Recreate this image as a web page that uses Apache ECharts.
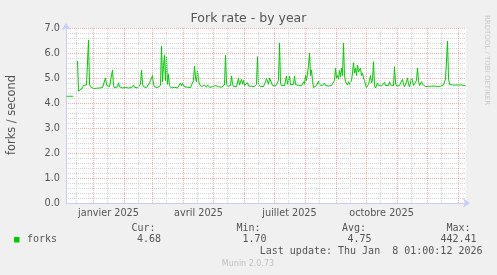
<!DOCTYPE html>
<html>
<head>
<meta charset="utf-8">
<script src="https://cdn.jsdelivr.net/npm/echarts@6/dist/echarts.min.js"></script>
<style>
html,body{margin:0;padding:0;background:#f0f0f0;}
#c{width:497px;height:275px;}
</style>
</head>
<body>
<div id="c"></div>
<script>
// ---- data (one value per day, oldest first) ----
const startDate = '2024-12-04T12:00:00Z';
const endDate = '2026-01-08T12:00:00Z';
const forks = [
4.27,4.27,4.27,4.27,4.27,4.27,4.27,4.27,null,null,
null,5.68,4.48,4.55,4.52,4.56,4.6,4.7,4.62,4.68,
4.72,4.8,6.52,4.75,4.65,4.62,4.6,4.58,4.6,4.57,
4.59,4.6,4.58,4.6,4.62,4.6,4.62,4.65,4.7,5.0,
4.72,4.65,4.8,4.65,4.6,4.7,5.32,4.7,4.6,4.58,
4.6,4.65,4.81,4.65,4.6,4.58,4.6,4.57,4.6,4.62,
4.6,4.58,4.6,4.59,4.6,4.62,4.65,4.72,4.63,4.6,
4.62,4.6,4.62,4.65,4.75,5.32,4.75,4.65,4.62,4.6,
4.62,4.65,4.7,4.8,4.9,4.95,5.1,4.75,4.65,4.62,
4.6,4.62,4.6,4.62,4.7,6.28,4.85,5.5,5.92,4.9,
5.85,4.75,5.15,4.7,4.62,4.6,4.62,4.6,4.63,4.6,
4.62,4.6,4.62,4.65,4.8,4.68,4.78,4.8,4.65,4.62,
4.6,4.63,4.62,4.6,4.62,4.65,4.63,4.9,5.48,5.0,
4.85,5.3,4.9,4.75,4.68,4.65,4.63,4.65,4.72,4.65,
4.63,4.72,4.65,4.63,4.65,4.63,4.65,4.64,4.65,4.7,
4.65,4.63,4.65,4.64,4.65,4.63,4.65,4.68,4.72,5.92,
4.8,4.66,4.65,4.64,4.7,5.08,4.75,4.66,4.65,4.64,
4.65,4.7,5.0,4.72,4.66,4.95,4.75,4.9,4.7,4.66,
4.68,4.81,4.68,4.66,4.65,4.67,4.66,4.65,4.66,4.68,
4.75,5.85,4.75,4.68,4.66,4.65,4.67,4.66,4.7,4.85,
4.98,4.9,4.75,5.0,4.95,4.8,4.7,4.68,4.67,4.68,
4.66,4.68,4.9,6.4,4.8,4.7,4.68,4.7,4.69,4.75,
5.08,4.75,4.72,5.08,4.72,4.7,4.69,4.75,5.08,4.74,
4.7,4.69,4.7,4.68,4.7,4.69,4.72,4.85,4.75,5.1,
4.9,5.2,5.5,5.99,5.1,5.32,4.9,4.62,4.58,4.62,
4.7,4.75,4.88,4.72,4.7,4.69,4.7,4.72,4.8,4.7,
4.69,4.7,4.68,4.7,4.69,4.7,4.72,4.75,4.9,5.39,
5.0,5.1,4.95,5.3,5.05,5.4,5.1,6.39,5.1,4.85,
4.8,4.72,4.85,4.75,4.7,4.9,5.2,5.61,5.2,5.39,
5.1,5.52,5.25,5.2,5.4,5.1,5.2,5.0,4.9,4.72,
4.62,4.6,4.75,4.9,5.1,4.8,4.9,5.65,4.7,4.6,
4.63,4.8,4.7,4.68,4.67,4.68,4.7,4.75,4.82,4.7,
4.68,4.67,4.7,4.85,4.72,4.68,4.67,4.7,5.45,4.8,
4.68,4.65,4.75,4.7,4.8,4.85,4.95,4.75,4.65,4.7,
4.85,5.0,4.75,4.65,4.8,5.0,4.9,4.7,4.62,4.65,
4.9,5.4,4.9,4.7,4.68,4.85,4.75,4.68,4.67,4.66,
4.67,4.66,4.67,4.68,4.72,4.67,4.66,4.67,4.68,4.7,
4.67,4.66,4.67,4.66,4.67,4.68,4.7,4.72,4.75,4.95,
4.9,6.48,5.0,4.74,4.72,4.71,4.72,4.72,4.73,4.72,
4.8,4.73,4.72,4.71,4.72,4.72,4.71,4.7,4.7,4.68
];
const monthStarts = ['2025-01-01','2025-02-01','2025-03-01','2025-04-01','2025-05-01','2025-06-01','2025-07-01','2025-08-01','2025-09-01','2025-10-01','2025-11-01','2025-12-01','2026-01-01'];
const midMonths = ['2024-12-15','2025-01-15','2025-02-15','2025-03-15','2025-04-15','2025-05-15','2025-06-15','2025-07-15','2025-08-15','2025-09-15','2025-10-15','2025-11-15','2025-12-15'];
const labelDates = ['2025-01-16','2025-04-16','2025-07-16','2025-10-16'];
const monthNamesFr = ['janvier','février','mars','avril','mai','juin','juillet','août','septembre','octobre','novembre','décembre'];
const yTicks = [0,1,2,3,4,5,6,7];
const legendStats = {cur:'4.68', min:'1.70', avg:'4.75', max:'442.41'};

// ---- build ----
const DAY = 86400000;
const t0 = Date.parse(startDate);
const t1 = Date.parse(endDate);
const seriesData = forks.map((v,i)=>[t0 + (i+0.5)*DAY, v]);
const ts = s => Date.parse(s + 'T00:00:00Z');

const chart = echarts.init(document.getElementById('c'), null, {renderer:'canvas'});
const axisCol = '#c8cef4';
const txt = '#555555';
const mono = '"DejaVu Sans Mono", monospace';
const sans = '"DejaVu Sans", sans-serif';
const redGrid = 'rgba(225,95,95,0.5)';
const grayGrid = '#d4d4d4';

chart.setOption({
  backgroundColor:'#f0f0f0',
  animation:false,
  grid:{left:66, top:28, width:400, height:175, show:true, backgroundColor:'#ffffff', borderWidth:0, containLabel:false},
  xAxis:{
    type:'value', min:t0, max:t1, scale:true,
    axisLine:{show:true, lineStyle:{color:axisCol, width:1}, symbol:['none','arrow'], symbolSize:[7,7], symbolOffset:[0,4]},
    axisTick:{show:false},
    splitLine:{show:false},
    axisLabel:{
      customValues: labelDates.map(ts),
      formatter: v => { const d = new Date(v); return monthNamesFr[d.getUTCMonth()] + ' ' + d.getUTCFullYear(); },
      color:txt, fontFamily:sans, fontSize:9.7, margin:5, hideOverlap:false
    }
  },
  yAxis:{
    type:'value', min:yTicks[0], max:yTicks[yTicks.length-1], interval:1,
    axisLine:{show:true, lineStyle:{color:axisCol, width:1}, symbol:['none','arrow'], symbolSize:[7,7], symbolOffset:[0,5]},
    axisTick:{show:false},
    axisLabel:{formatter:v=>v.toFixed(1), color:txt, fontFamily:sans, fontSize:9.7, margin:6},
    splitLine:{show:true, lineStyle:{color:redGrid, type:[1,1], width:1}},
    minorTick:{show:false, splitNumber:5},
    minorSplitLine:{show:true, lineStyle:{color:grayGrid, type:[1,1], width:1}}
  },
  series:[
    {
      type:'line', z:1, data:[[t0,null]], silent:true, showSymbol:false,
      markLine:{
        silent:true, symbol:['none','none'], label:{show:false}, animation:false,
        data: midMonths.map(d=>({xAxis:ts(d), lineStyle:{color:grayGrid, type:[1,1], width:1}}))
          .concat(monthStarts.map(d=>({xAxis:ts(d), lineStyle:{color:redGrid, type:[1,1], width:1}})))
      }
    },
    {
      type:'line', z:3, name:'forks', data:seriesData, showSymbol:false, connectNulls:false,
      lineStyle:{color:'#00cc00', width:1}, itemStyle:{color:'#00cc00'}
    }
  ],
  graphic:[
    {type:'text', left:'center', top:12, style:{text:'Fork rate - by year', fill:txt, font:'12.5px '+sans}},
    {type:'text', x:12, y:115, rotation:Math.PI/2, style:{text:'forks / second', fill:txt, font:'11.4px '+sans, align:'center', verticalAlign:'middle'}},
    {type:'text', x:487, y:60, rotation:-Math.PI/2, style:{text:'RRDTOOL / TOBI OETIKER', fill:'#c8c8c8', font:'7px '+sans, align:'center', verticalAlign:'middle'}},
    {type:'rect', shape:{x:14, y:237, width:5.5, height:5.5}, style:{fill:'#00cc00'}},
    {type:'text', x:27, y:239.5, style:{text:'forks', fill:txt, font:'10px '+mono, verticalAlign:'middle'}},
    {type:'text', x:131.5, y:228, style:{text:'Cur:', fill:txt, font:'10px '+mono, verticalAlign:'middle'}},
    {type:'text', x:236.5, y:228, style:{text:'Min:', fill:txt, font:'10px '+mono, verticalAlign:'middle'}},
    {type:'text', x:342, y:228, style:{text:'Avg:', fill:txt, font:'10px '+mono, verticalAlign:'middle'}},
    {type:'text', x:446.5, y:228, style:{text:'Max:', fill:txt, font:'10px '+mono, verticalAlign:'middle'}},
    {type:'text', x:137, y:239.5, style:{text:legendStats.cur, fill:txt, font:'10px '+mono, verticalAlign:'middle'}},
    {type:'text', x:242.5, y:239.5, style:{text:legendStats.min, fill:txt, font:'10px '+mono, verticalAlign:'middle'}},
    {type:'text', x:347.5, y:239.5, style:{text:legendStats.avg, fill:txt, font:'10px '+mono, verticalAlign:'middle'}},
    {type:'text', x:440.5, y:239.5, style:{text:legendStats.max, fill:txt, font:'10px '+mono, verticalAlign:'middle'}},
    {type:'text', x:482.5, y:251.5, style:{text:'Last update: Thu Jan  8 01:00:12 2026', fill:txt, font:'10px '+mono, align:'right', verticalAlign:'middle'}},
    {type:'text', x:248, y:264, style:{text:'Munin 2.0.73', fill:'#c0c0c0', font:'8px '+sans, align:'center', verticalAlign:'middle'}}
  ]
});
</script>
</body>
</html>
